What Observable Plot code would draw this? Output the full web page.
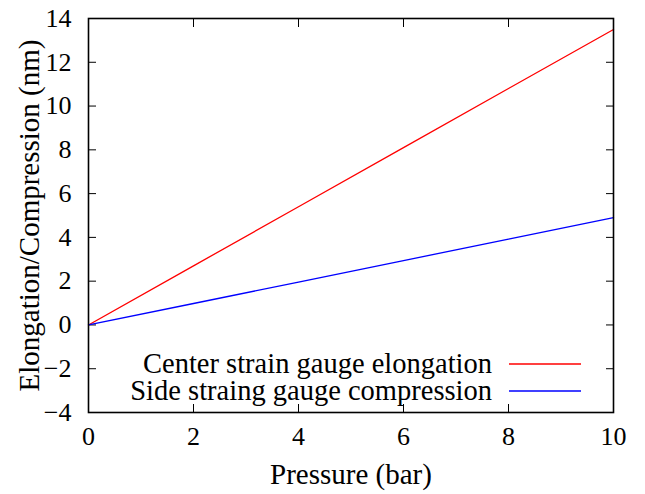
<!DOCTYPE html>
<html>
<head>
<meta charset="utf-8">
<script src="https://cdn.jsdelivr.net/npm/d3@7"></script>
<script src="https://cdn.jsdelivr.net/npm/@observablehq/plot@0.6"></script>
<style>
  html, body { margin: 0; padding: 0; background: #fff; }
  svg { display: block; }
</style>
</head>
<body>
<div id="chart"></div>
<script>
// Data
const pressure = [0, 2, 4, 6, 8, 10];
const centerElongation = [0, 2.7, 5.4, 8.1, 10.8, 13.5];
const sideCompression = [0, 0.98, 1.96, 2.94, 3.92, 4.9];
const seriesNames = ["Center strain gauge elongation", "Side straing gauge compression"];
const seriesColors = ["#ff0000", "#0000ff"];
const xTicks = [0, 2, 4, 6, 8, 10];
const yTicks = [-4, -2, 0, 2, 4, 6, 8, 10, 12, 14];

const rows = [];
pressure.forEach((p, i) => {
  rows.push({x: p, y: centerElongation[i], s: seriesNames[0]});
  rows.push({x: p, y: sideCompression[i], s: seriesNames[1]});
});

const font = "Liberation Serif";
const fmt = (d) => (d < 0 ? "\u2212" + Math.abs(d) : String(d));

function legendMark(index, scales, values, dimensions) {
  const g = d3.create("svg:g");
  const xr = scales.x(10);
  const yb = scales.y(-4);
  seriesNames.forEach((name, i) => {
    const y = yb - 48 + i * 27;
    g.append("text")
      .attr("x", xr - 121).attr("y", y).attr("dy", "0.32em")
      .attr("text-anchor", "end")
      .attr("font-family", font).attr("font-size", 28.5)
      .attr("fill", "black")
      .text(name);
    g.append("line")
      .attr("x1", xr - 104).attr("x2", xr - 32)
      .attr("y1", y).attr("y2", y)
      .attr("stroke", seriesColors[i]).attr("stroke-width", 1.3);
  });
  return g.node();
}

const chart = Plot.plot({
  width: 645,
  height: 494,
  marginLeft: 88,
  marginRight: 32,
  marginTop: 18,
  marginBottom: 82,
  style: {fontFamily: font, background: "white", color: "black"},
  x: {domain: [0, 10]},
  y: {domain: [-4, 14]},
  color: {domain: seriesNames, range: seriesColors},
  marks: [
    // inward ticks on all four sides
    Plot.axisX(xTicks, {anchor: "bottom", tickSize: -8, tickFormat: () => "", label: null, strokeWidth: 1}),
    Plot.axisX([2, 4, 6, 8], {anchor: "top", tickSize: -8, tickFormat: () => "", label: null, strokeWidth: 1}),
    Plot.axisY(yTicks, {anchor: "left", tickSize: -8, tickFormat: () => "", label: null, strokeWidth: 1}),
    Plot.axisY(yTicks, {anchor: "right", tickSize: -8, tickFormat: () => "", label: null, strokeWidth: 1}),
    // tick labels as text marks
    Plot.text(xTicks, {x: (d) => d, text: fmt, frameAnchor: "bottom", lineAnchor: "top", dy: 14, fontSize: 26, fontFamily: font, fill: "black"}),
    Plot.text(yTicks, {y: (d) => d, text: fmt, frameAnchor: "left", textAnchor: "end", dx: -17, fontSize: 26, fontFamily: font, fill: "black"}),
    // axis titles
    Plot.text(["Pressure (bar)"], {frameAnchor: "bottom", textAnchor: "middle", lineAnchor: "middle", dy: 62, fontSize: 29, fontFamily: font, fill: "black"}),
    Plot.text(["Elongation/Compression (nm)"], {frameAnchor: "left", textAnchor: "middle", lineAnchor: "middle", rotate: -90, dx: -59, fontSize: 29, fontFamily: font, fill: "black"}),
    Plot.line(rows, {x: "x", y: "y", z: "s", stroke: "s", strokeWidth: 1.3}),
    Plot.frame({stroke: "black", strokeWidth: 1.6}),
    legendMark
  ]
});

document.getElementById("chart").appendChild(chart);
</script>
</body>
</html>
